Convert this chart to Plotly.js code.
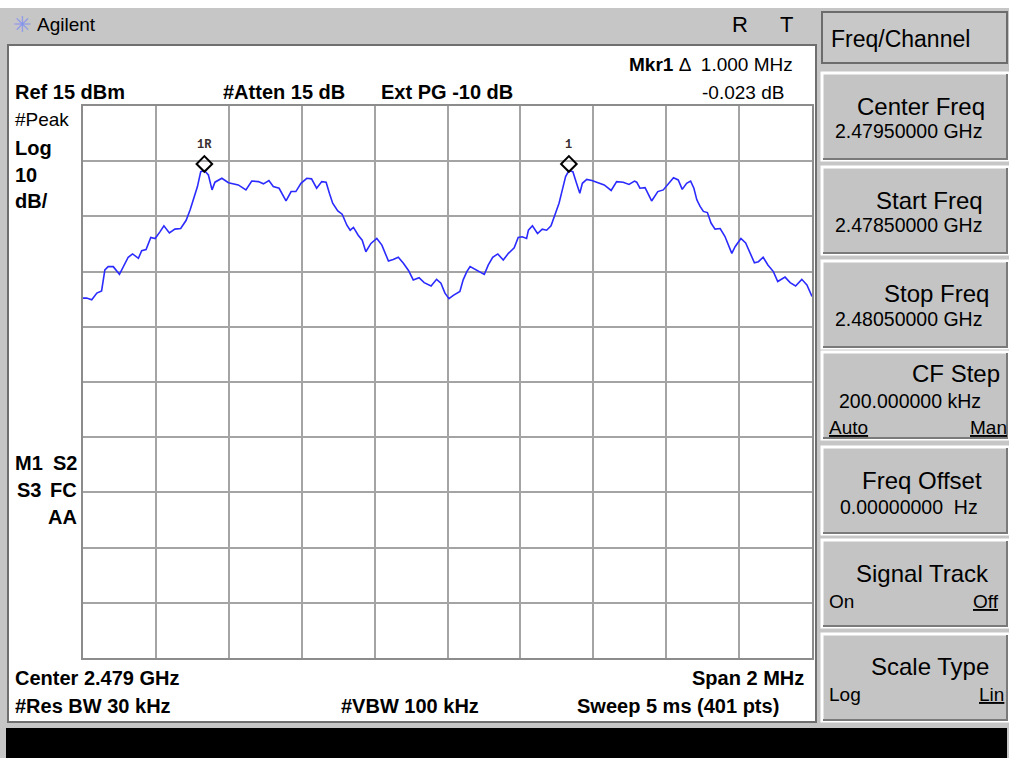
<!DOCTYPE html>
<html>
<head>
<meta charset="utf-8">
<script src="https://cdn.plot.ly/plotly-3.0.1.min.js"></script>
<style>html,body{margin:0;padding:0;background:#c6c6c6;}#chart{width:1009px;height:758px;}</style>
</head>
<body>
<div id="chart"></div>
<script>
// ---- Data (frequency in MHz, level in dBm) ----
const freqMHz = [
2478.000,2478.010,2478.024,2478.038,2478.051,2478.060,2478.069,2478.083,2478.100,2478.111,
2478.124,2478.136,2478.152,2478.161,2478.173,2478.186,2478.198,2478.211,2478.222,2478.237,
2478.252,2478.268,2478.283,2478.294,2478.305,2478.314,2478.323,2478.333,2478.344,2478.354,
2478.362,2478.381,2478.399,2478.426,2478.447,2478.463,2478.481,2478.495,2478.510,2478.522,
2478.538,2478.557,2478.571,2478.584,2478.598,2478.614,2478.627,2478.641,2478.655,2478.667,
2478.676,2478.685,2478.699,2478.711,2478.724,2478.733,2478.742,2478.755,2478.766,2478.776,
2478.790,2478.806,2478.820,2478.838,2478.851,2478.865,2478.879,2478.893,2478.906,2478.922,
2478.936,2478.955,2478.970,2478.982,2478.993,2479.004,2479.016,2479.034,2479.043,2479.053,
2479.062,2479.075,2479.089,2479.101,2479.112,2479.124,2479.138,2479.153,2479.167,2479.183,
2479.194,2479.205,2479.217,2479.222,2479.233,2479.247,2479.260,2479.272,2479.284,2479.295,
2479.306,2479.315,2479.324,2479.333,2479.344,2479.354,2479.363,2479.370,2479.382,2479.396,
2479.414,2479.430,2479.449,2479.464,2479.482,2479.498,2479.513,2479.519,2479.528,2479.542,
2479.560,2479.577,2479.592,2479.606,2479.620,2479.633,2479.644,2479.656,2479.667,2479.676,
2479.684,2479.693,2479.702,2479.713,2479.723,2479.734,2479.748,2479.761,2479.770,2479.780,
2479.789,2479.805,2479.818,2479.830,2479.842,2479.853,2479.866,2479.879,2479.894,2479.906,
2479.915,2479.926,2479.940,2479.955,2479.972,2479.986,2480.000
];
const levelDbm = [
-19.8,-19.8,-20.1,-18.9,-18.5,-14.7,-14.1,-14.1,-15.5,-14.1,
-12.4,-11.8,-12.6,-11.2,-11.0,-8.8,-9.0,-7.8,-6.7,-8.0,
-7.3,-7.2,-5.7,-3.8,-1.7,0.4,3.1,3.3,2.5,-0.2,
1.2,1.9,1.1,0.7,-0.2,1.4,1.3,0.9,1.5,0.4,
0.1,-2.2,-0.5,-0.5,1.0,1.9,1.8,0.1,1.3,1.2,
-0.8,-2.6,-4.0,-4.6,-6.6,-7.5,-7.0,-8.4,-9.3,-11.4,
-9.9,-9.0,-10.2,-13.1,-12.8,-12.4,-13.5,-14.8,-16.5,-16.1,
-17.0,-17.6,-16.4,-17.1,-18.9,-19.9,-19.3,-18.6,-16.5,-15.0,
-14.1,-14.6,-15.0,-15.5,-13.8,-12.4,-11.8,-12.9,-11.7,-10.7,
-8.8,-8.7,-9.0,-7.5,-6.7,-8.1,-7.3,-7.5,-6.7,-4.7,
-2.6,-0.2,2.2,3.3,3.1,1.0,-0.8,1.0,1.7,1.5,
1.0,0.7,-0.3,1.3,1.2,0.8,1.4,1.2,0.1,0.2,
-2.2,-0.5,-0.2,1.0,2.0,1.6,-0.1,1.0,1.4,0.1,
-2.0,-3.2,-4.1,-4.3,-6.2,-7.3,-7.2,-8.6,-10.2,-11.7,
-10.5,-9.0,-9.8,-11.7,-13.4,-13.2,-12.4,-13.8,-15.0,-16.8,
-16.5,-16.0,-17.0,-17.6,-16.4,-17.4,-19.5
];
const markerNames = ['1R', '1'];
const markerFreqMHz = [2478.333, 2479.333];

const refLevelDbm = 15;
const dbPerDiv = 10;
const numDivs = 10;
const startFreqMHz = 2478.0;
const stopFreqMHz = 2480.0;

// ---- helpers for placing screen decorations (pixels -> paper) ----
const L = 83, R = 812, T = 106, B = 658;
const px = x => (x - L) / (R - L);
const py = y => (B - y) / (B - T);
const FONT = 'Liberation Sans, Arial, sans-serif';

const markerLevel = markerFreqMHz.map(f => levelDbm[freqMHz.indexOf(f)]);
const MARKER_LIFT_DB = 1.2;

const shapes = [];
function rect(x0, y0, x1, y1, fill, lineColor, lineW) {
  shapes.push({type: 'rect', xref: 'paper', yref: 'paper', layer: 'below',
    x0: px(x0), x1: px(x1), y0: py(y1), y1: py(y0),
    fillcolor: fill, line: {color: lineColor || fill, width: lineW === undefined ? 0 : lineW}});
}
rect(0, 0, 1009, 8, '#ffffff');
rect(8, 45, 816, 722, '#ffffff', '#6f6f6f', 2);
rect(6, 728, 1007, 758, '#000000');
rect(822, 12, 1007, 63, '#c8c8c8', '#6c6c6c', 2);
const btnTops = [73, 167, 261, 352, 447, 540, 634];
btnTops.forEach(t => {
  rect(822, t, 1008, t + 87, '#c4c4c4', '#ffffff', 3);
  shapes.push({type: 'path', xref: 'paper', yref: 'paper', layer: 'below',
    path: `M ${px(823)} ${py(t + 86)} L ${px(1007)} ${py(t + 86)} L ${px(1007)} ${py(t + 1)}`,
    line: {color: '#7a7a7a', width: 2}});
});

const annotations = [];
function txt(text, x, y, anchor, size, opts) {
  opts = opts || {};
  annotations.push(Object.assign({
    text: text, xref: 'paper', yref: 'paper', x: px(x), y: py(y),
    xanchor: anchor, yanchor: 'middle', showarrow: false,
    font: {family: FONT, size: size, color: opts.color || '#000000', weight: opts.weight || 'normal'}
  }, opts.extra || {}));
}
txt('✳', 22, 25, 'center', 22, {color: '#8a96ea'});
txt('Agilent', 35, 25, 'left', 19);
txt('R', 740, 25, 'center', 22);
txt('T', 786, 25, 'center', 22);
txt('<b>Mkr1</b> Δ  1.000 MHz', 795, 64, 'right', 19);
txt('Ref 15 dBm', 13, 92, 'left', 20, {weight: 'bold'});
txt('#Atten 15 dB', 221, 92, 'left', 20, {weight: 'bold'});
txt('Ext PG -10 dB', 379, 92, 'left', 20, {weight: 'bold'});
txt('-0.023 dB', 786, 92, 'right', 19);
txt('#Peak', 13, 119, 'left', 19);
txt('Log', 13, 148, 'left', 20, {weight: 'bold'});
txt('10', 13, 175, 'left', 20, {weight: 'bold'});
txt('dB/', 13, 201, 'left', 20, {weight: 'bold'});
txt('M1', 13, 463, 'left', 20, {weight: 'bold'});
txt('S2', 79, 463, 'right', 20, {weight: 'bold'});
txt('S3', 15, 490, 'left', 20, {weight: 'bold'});
txt('FC', 79, 490, 'right', 20, {weight: 'bold'});
txt('AA', 79, 517, 'right', 20, {weight: 'bold'});
txt('Center 2.479 GHz', 13, 678, 'left', 20, {weight: 'bold'});
txt('Span 2 MHz', 806, 678, 'right', 20, {weight: 'bold'});
txt('#Res BW 30 kHz', 13, 706, 'left', 20, {weight: 'bold'});
txt('#VBW 100 kHz', 339, 706, 'left', 20, {weight: 'bold'});
txt('Sweep 5 ms (401 pts)', 575, 706, 'left', 20, {weight: 'bold'});
txt('Freq/Channel', 829, 39, 'left', 23);
txt('Center Freq', 987, 106, 'right', 24);
txt('2.47950000 GHz', 833, 131, 'left', 19.5);
txt('Start Freq', 985, 200, 'right', 24);
txt('2.47850000 GHz', 833, 225, 'left', 19.5);
txt('Stop Freq', 991, 293, 'right', 24);
txt('2.48050000 GHz', 833, 319, 'left', 19.5);
txt('CF Step', 1002, 373, 'right', 24);
txt('200.000000 kHz', 837, 401, 'left', 19.5);
txt('<u>Auto</u>', 827, 427, 'left', 19);
txt('<u>Man</u>', 1009, 427, 'right', 19);
txt('Freq Offset', 984, 480, 'right', 24);
txt('0.00000000  Hz', 838, 507, 'left', 19.5);
txt('Signal Track', 991, 573, 'right', 24);
txt('On', 827, 601, 'left', 19);
txt('<u>Off</u>', 1001, 601, 'right', 19);
txt('Scale Type', 991, 666, 'right', 24);
txt('Log', 827, 694, 'left', 19);
txt('<u>Lin</u>', 1006, 694, 'right', 19);

markerNames.forEach((n, i) => {
  annotations.push({text: '<b>' + n + '</b>', x: markerFreqMHz[i], y: markerLevel[i],
    xref: 'x', yref: 'y', showarrow: false, yshift: 26, xanchor: 'center', yanchor: 'middle',
    font: {family: 'Liberation Mono, DejaVu Sans Mono, monospace', size: 12, color: '#3a3030'}});
});

const traces = [
  {x: freqMHz, y: levelDbm, type: 'scatter', mode: 'lines',
   line: {color: '#2b2bff', width: 1.6}, hoverinfo: 'skip'},
  {x: markerFreqMHz, y: markerLevel.map(v => v + MARKER_LIFT_DB), type: 'scatter', mode: 'markers',
   marker: {symbol: 'diamond-open', size: 12, color: '#000000', line: {width: 2, color: '#000000'}},
   hoverinfo: 'skip'}
];

const layout = {
  width: 1009, height: 758,
  margin: {l: L, r: 1009 - R, t: T, b: 758 - B, pad: 0},
  paper_bgcolor: '#c6c6c6',
  plot_bgcolor: '#ffffff',
  showlegend: false,
  xaxis: {range: [startFreqMHz, stopFreqMHz], dtick: (stopFreqMHz - startFreqMHz) / numDivs, tick0: startFreqMHz,
    showticklabels: false, ticks: '', showgrid: true, gridcolor: '#a4a4a4', gridwidth: 2,
    zeroline: false, showline: true, mirror: true, linecolor: '#8c8c8c', linewidth: 2, fixedrange: true},
  yaxis: {range: [refLevelDbm - dbPerDiv * numDivs, refLevelDbm], dtick: dbPerDiv, tick0: refLevelDbm,
    showticklabels: false, ticks: '', showgrid: true, gridcolor: '#a4a4a4', gridwidth: 2,
    zeroline: false, showline: true, mirror: true, linecolor: '#8c8c8c', linewidth: 2, fixedrange: true},
  shapes: shapes,
  annotations: annotations
};

Plotly.newPlot('chart', traces, layout, {displayModeBar: false, staticPlot: true});
</script>
</body>
</html>
